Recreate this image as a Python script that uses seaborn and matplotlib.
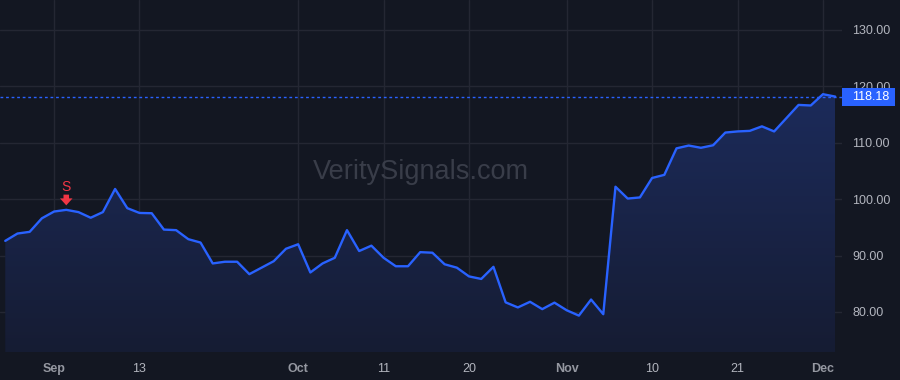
import numpy as np
import pandas as pd
import matplotlib
matplotlib.use("Agg")
import matplotlib.pyplot as plt
import matplotlib.transforms as mtransforms
from matplotlib.patches import Rectangle
from matplotlib.colors import LinearSegmentedColormap
import seaborn as sns

# ---------------- data ----------------
start_date = "2023-08-28"
end_date = "2023-12-04"
market_holidays = ["2023-09-04", "2023-11-23"]

prices = [
    92.6, 93.9, 94.2, 96.6, 97.8, 98.1, 97.7, 96.7, 97.7, 101.8,
    98.4, 97.55, 97.5, 94.6, 94.5, 92.9, 92.3, 88.6, 88.9, 88.9,
    86.7, 87.85, 89.0, 91.2, 92.0, 87.0, 88.6, 89.6, 94.5, 90.8,
    91.75, 89.6, 88.1, 88.1, 90.6, 90.5, 88.45, 87.85, 86.3, 85.85,
    88.0, 81.7, 80.8, 81.8, 80.5, 81.65, 80.3, 79.35, 82.2, 79.6,
    102.2, 100.1, 100.3, 103.75, 104.3, 109.0, 109.5, 109.1, 109.55, 111.8,
    112.0, 112.1, 112.9, 112.0, 114.35, 116.7, 116.6, 118.6, 118.18,
]
last_price = 118.18

tick_dates = ["2023-09-01", "2023-09-13", "2023-10-02", "2023-10-11", "2023-10-20",
              "2023-11-01", "2023-11-10", "2023-11-21", "2023-12-01"]
tick_labels = ["Sep", "13", "Oct", "11", "20", "Nov", "10", "21", "Dec"]
tick_bold = [True, False, True, False, False, True, False, False, True]

y_ticks = [80, 90, 100, 110, 120, 130]

signal_date = "2023-09-05"
signal_label = "S"

watermark = "VeritySignals.com"

# ---------------- prep ----------------
dates = pd.bdate_range(start_date, end_date, freq="C", holidays=market_holidays)
df = pd.DataFrame({"date": dates, "price": prices})
df["bar"] = np.arange(len(df))
date_to_bar = {d.strftime("%Y-%m-%d"): i for i, d in enumerate(dates)}

BG = "#131722"
GRID = "#242733"
LINE = "#2962ff"
TEXT = "#b2b5be"
RED = "#f23645"

sns.set_theme(style="dark")
plt.rcParams["font.family"] = ["Liberation Sans", "DejaVu Sans"]

fig = plt.figure(figsize=(9, 3.8), dpi=100, facecolor=BG)
ax = fig.add_axes([0, 28 / 380, 842 / 900, 352 / 380])
ax.set_facecolor(BG)

YMIN, YMAX = 72.9, 135.3
ax.set_xlim(-0.43, 68.56)
ax.set_ylim(YMIN, YMAX)

# grid
for v in y_ticks:
    ax.axhline(v, color=GRID, lw=1, zorder=0)
tick_pos = [date_to_bar[d] for d in tick_dates]
for p in tick_pos:
    ax.axvline(p, color=GRID, lw=1, zorder=0)

# gradient fill under line
x = df["bar"].to_numpy()
y = df["price"].to_numpy()
poly = ax.fill_between(x, y, YMIN, color="none", lw=0)
cmap = LinearSegmentedColormap.from_list(
    "fade", [(0.11, 0.17, 0.36, 1.0), (0.085, 0.11, 0.20, 1.0)])
grad = np.linspace(0, 1, 256).reshape(-1, 1)
im = ax.imshow(grad, cmap=cmap, aspect="auto",
               extent=[x[0], x[-1], YMIN, 120], origin="upper", zorder=1)
path = poly.get_paths()[0]
im.set_clip_path(path, transform=ax.transData)

sns.lineplot(data=df, x="bar", y="price", ax=ax, color=LINE, lw=1.7, zorder=3)

# last price dotted line
ax.axhline(last_price, color=LINE, lw=1, ls=(0, (2, 2)), zorder=2)

# axes styling
for s in ax.spines.values():
    s.set_visible(False)
ax.set_xlabel("")
ax.set_ylabel("")
ax.yaxis.tick_right()
ax.set_yticks(y_ticks)
ax.set_yticklabels([f"{v:.2f}" for v in y_ticks], color=TEXT, fontsize=9)
ax.tick_params(axis="y", length=0, pad=7.5)
ax.set_xticks(tick_pos)
ax.set_xticklabels(tick_labels, color=TEXT, fontsize=9)
for lab, b in zip(ax.get_xticklabels(), tick_bold):
    if b:
        lab.set_fontweight("bold")
        lab.set_color("#9598a1")
ax.tick_params(axis="x", length=0, pad=8)
ax.grid(False)

# price label box
trans = mtransforms.blended_transform_factory(ax.transAxes, ax.transData)
ax.add_patch(Rectangle((1.0, last_price - 1.6), 53 / 842, 3.2, transform=trans,
                       facecolor=LINE, edgecolor="none", clip_on=False, zorder=5))
ax.text(852 / 842, last_price, f"{last_price:.2f}", transform=trans, color="white",
        fontsize=9, ha="left", va="center", clip_on=False, zorder=6)

# signal marker
sb = date_to_bar[signal_date]
ax.text(sb, 102.2, signal_label, color=RED, fontsize=10, ha="center", va="center", zorder=6)
ax.annotate("", xy=(sb, 98.9), xytext=(sb, 100.8),
            arrowprops=dict(arrowstyle="simple,head_length=0.5,head_width=0.9,tail_width=0.4",
                            color=RED, lw=0, mutation_scale=10, shrinkA=0, shrinkB=0),
            zorder=6)

# watermark
fig.text(421 / 900, 1 - 172 / 380, watermark, color="#393d49", fontsize=19.5,
         ha="center", va="center")

fig.savefig("out.png", dpi=100, facecolor=BG)
